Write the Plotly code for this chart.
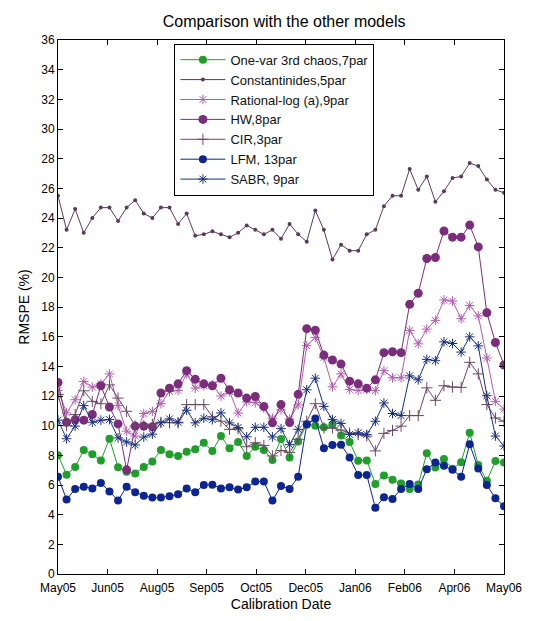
import plotly.graph_objects as go

# Weekly calibration dates (index) and axis tick labels
tick_labels = ["May05", "Jun05", "Aug05", "Sep05", "Oct05",
               "Dec05", "Jan06", "Feb06", "Apr06", "May06"]

one_var_chaos = [8.01, 6.69, 7.22, 8.36, 8.07, 7.65, 9.12, 7.20, 6.90, 6.78,
                 7.22, 7.58, 8.36, 8.07, 7.96, 8.25, 8.41, 8.85, 8.29, 9.30,
                 8.47, 8.90, 7.96, 8.58, 8.36, 7.69, 9.10, 7.86, 8.93, 10.10,
                 10.00, 9.90, 10.08, 9.34, 8.90, 7.64, 7.66, 6.07, 6.64, 6.35,
                 6.10, 5.73, 6.03, 8.14, 7.18, 7.76, 7.09, 7.53, 9.52, 7.35,
                 6.29, 7.62, 7.51]

constantinides = [25.5, 23.2, 24.6, 23.0, 24.0, 24.7, 24.7, 23.8, 24.7, 25.2,
                  24.3, 24.0, 24.7, 24.7, 23.6, 24.3, 22.8, 22.9, 23.1, 22.9,
                  22.7, 23.0, 23.5, 23.2, 22.9, 23.2, 22.6, 23.6, 22.9, 22.4,
                  24.5, 23.2, 21.2, 22.2, 21.8, 21.8, 22.9, 23.2, 24.8, 25.5,
                  25.5, 27.3, 25.9, 26.8, 25.1, 25.8, 26.7, 26.8, 27.7, 27.5,
                  26.6, 25.9, 25.7]

rational_log = [12.38, 10.86, 11.75, 12.98, 12.60, 12.82, 13.49, 11.35, 9.63, 9.30,
                10.82, 10.97, 11.48, 12.31, 12.37, 13.49, 12.53, 12.69, 12.75, 12.00,
                12.30, 10.85, 11.60, 11.55, 11.20, 10.50, 11.06, 10.45, 11.40, 15.39,
                15.95, 14.60, 12.62, 13.49, 12.44, 12.37, 12.44, 12.36, 13.71, 13.23,
                13.23, 16.41, 15.52, 16.51, 17.10, 18.48, 18.40, 17.21, 18.10, 17.40,
                14.57, 11.64, 11.12]

hw = [12.91, 10.23, 10.41, 10.37, 10.75, 12.69, 11.26, 10.12, 7.02, 9.97,
      9.97, 9.92, 12.20, 12.53, 12.82, 13.71, 13.13, 12.82, 12.69, 13.20,
      12.42, 12.20, 11.86, 11.97, 11.30, 10.19, 11.42, 10.21, 12.11, 16.54,
      16.43, 14.76, 14.43, 14.15, 13.00, 12.82, 12.53, 13.09, 14.92, 14.98,
      14.92, 18.18, 18.93, 21.27, 21.34, 23.12, 22.71, 22.71, 23.52, 22.05,
      17.61, 15.61, 14.09]

cir = [12.10, 10.00, 10.75, 12.35, 11.64, 11.48, 12.75, 11.86, 10.97, 9.97,
       10.00, 10.10, 10.23, 10.20, 10.19, 11.42, 11.42, 11.42, 10.60, 10.30,
       9.75, 9.79, 8.58, 8.85, 8.67, 7.96, 8.33, 8.20, 9.08, 10.30,
       11.48, 9.85, 9.85, 9.70, 9.50, 9.40, 9.30, 8.30, 9.48, 9.68,
       9.97, 10.68, 10.68, 12.55, 11.71, 12.69, 12.60, 12.58, 14.27, 13.49,
       11.42, 10.52, 10.30]

lfm = [6.56, 5.02, 5.73, 5.89, 5.77, 6.13, 5.57, 4.95, 5.89, 5.51,
       5.28, 5.15, 5.15, 5.24, 5.37, 5.77, 5.51, 6.00, 6.02, 5.77,
       5.84, 5.69, 5.84, 6.24, 6.24, 4.95, 5.93, 5.73, 6.56, 10.08,
       10.48, 8.47, 8.70, 8.72, 7.85, 6.67, 6.67, 4.46, 5.17, 5.06,
       5.73, 6.07, 5.73, 7.07, 7.51, 7.29, 7.02, 6.56, 8.74, 7.11,
       6.00, 5.10, 4.57]

sabr = [10.37, 9.12, 9.97, 11.35, 10.23, 10.37, 10.41, 9.18, 8.90, 8.70,
        9.23, 9.43, 10.19, 10.46, 10.23, 11.04, 10.19, 10.50, 10.40, 10.86,
        10.19, 9.88, 9.25, 9.89, 9.89, 9.24, 9.80, 8.72, 9.75, 12.42,
        13.20, 11.30, 10.41, 10.15, 9.41, 9.52, 9.41, 10.30, 11.53, 10.82,
        10.68, 13.36, 13.09, 14.47, 14.38, 15.65, 15.54, 14.96, 15.99, 15.38,
        12.02, 9.30, 8.63]

weeks = list(range(len(hw)))
n_int = len(weeks) - 1
tick_pos = [n_int * k / (len(tick_labels) - 1) for k in range(len(tick_labels))]

series = [
    ("One-var 3rd chaos,7par", one_var_chaos, "#1f9e2c", "circle", 8, 0),
    ("Constantinides,5par", constantinides, "#5b3b5b", "circle", 4, 0),
    ("Rational-log (a),9par", rational_log, "#b25cb2", "asterisk-open", 8, 1),
    ("HW,8par", hw, "#7b2d7b", "circle", 9, 0),
    ("CIR,3par", cir, "#6a4862", "cross-thin-open", 8, 1),
    ("LFM, 13par", lfm, "#0d2590", "circle", 8, 0),
    ("SABR, 9par", sabr, "#18307f", "asterisk-open", 8, 1),
]

fig = go.Figure()
for name, vals, color, sym, size, lw in series:
    fig.add_trace(go.Scatter(
        x=weeks, y=vals, name=name, mode="lines+markers",
        line=dict(color=color, width=1),
        marker=dict(symbol=sym, size=size, color=color,
                    line=dict(color=color, width=lw)),
    ))

font_family = "Liberation Sans, Arial, sans-serif"
fig.update_layout(
    width=534, height=621,
    margin=dict(l=58, r=24, t=40, b=42),
    paper_bgcolor="white", plot_bgcolor="white",
    font=dict(family=font_family, size=12, color="black"),
    title=dict(text="Comparison with the other models", x=0.532, xanchor="center",
               y=0.965, yanchor="middle", font=dict(size=16, color="black")),
    legend=dict(x=0.261, y=0.993, xanchor="left", yanchor="top",
                bgcolor="white", bordercolor="black", borderwidth=1,
                itemwidth=45, tracegroupgap=0,
                font=dict(size=13, color="#111")),
    showlegend=True,
)
fig.update_xaxes(
    range=[0, n_int], tickvals=tick_pos, ticktext=tick_labels,
    showline=True, linecolor="black", linewidth=1, mirror="ticks",
    ticks="inside", ticklen=5, tickcolor="black", showgrid=False, zeroline=False,
    ticklabelstandoff=3,
    title=dict(text="Calibration Date", font=dict(size=14), standoff=4),
    tickfont=dict(size=12),
)
fig.update_yaxes(
    range=[0, 36], dtick=2, tick0=0,
    showline=True, linecolor="black", linewidth=1, mirror="ticks",
    ticks="inside", ticklen=5, tickcolor="black", showgrid=False, zeroline=False,
    title=dict(text="RMSPE (%)", font=dict(size=14), standoff=8),
    tickfont=dict(size=12),
)

fig.write_html("out.html")
